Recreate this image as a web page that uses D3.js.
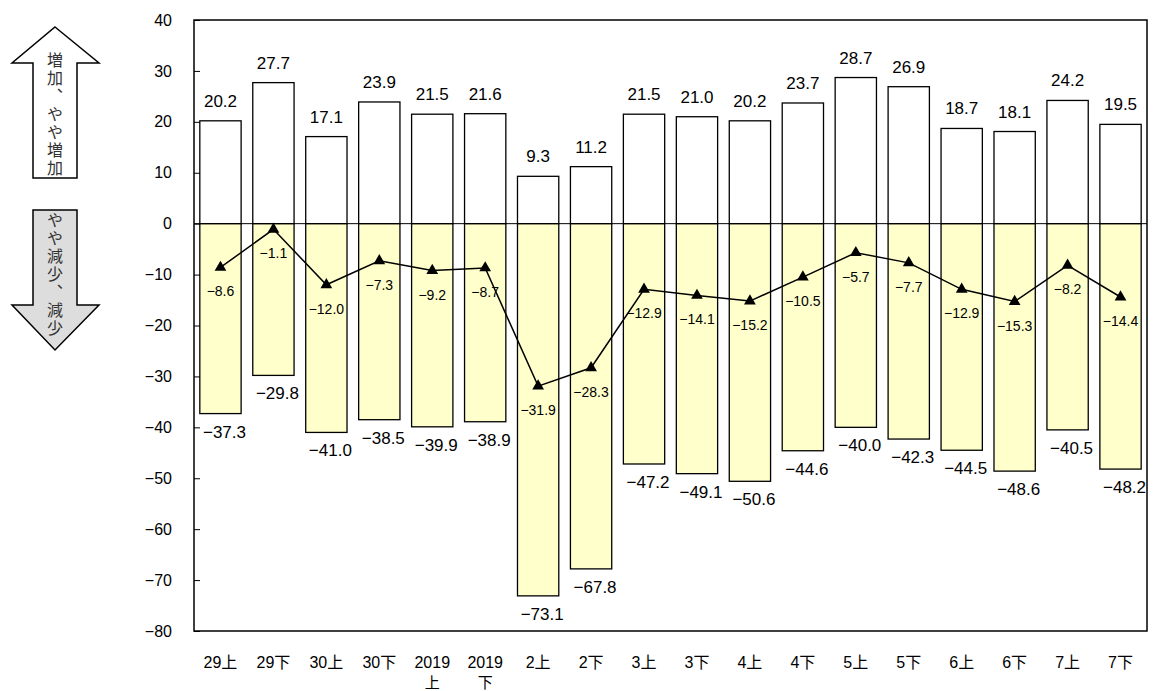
<!DOCTYPE html>
<html><head><meta charset="utf-8">
<script src="https://cdn.jsdelivr.net/npm/d3@7"></script>
<style>
body{margin:0;background:#fff;}
svg{display:block;font-family:"Liberation Sans","Noto Sans CJK JP",Arial,sans-serif;}
.vt{writing-mode:vertical-rl;text-orientation:upright;}
</style></head>
<body><svg id="c" width="1153" height="691"></svg>
<script>
const categories = ["29上","29下","30上","30下","2019上","2019下","2上","2下","3上","3下","4上","4下","5上","5下","6上","6下","7上","7下"];
const increase = [20.2,27.7,17.1,23.9,21.5,21.6,9.3,11.2,21.5,21.0,20.2,23.7,28.7,26.9,18.7,18.1,24.2,19.5];
const decrease = [-37.3,-29.8,-41.0,-38.5,-39.9,-38.9,-73.1,-67.8,-47.2,-49.1,-50.6,-44.6,-40.0,-42.3,-44.5,-48.6,-40.5,-48.2];
const diffusion = [-8.6,-1.1,-12.0,-7.3,-9.2,-8.7,-31.9,-28.3,-12.9,-14.1,-15.2,-10.5,-5.7,-7.7,-12.9,-15.3,-8.2,-14.4];
const yTicks = [40,30,20,10,0,-10,-20,-30,-40,-50,-60,-70,-80];
const upText = "増加、やや増加";
const downText = "やや減少、減少";

(function(){
const svg = d3.select("#c");
const pL=194, pR=1147, pT=20, pB=631;
const x = d3.scaleBand().domain(categories).range([pL,pR]).paddingInner(0.22).paddingOuter(0.11);
const y = d3.scaleLinear().domain([-80,40]).range([pB,pT]);
const fmt = d3.format(".1f");
const minus = v => (v<0 ? "\u2212"+fmt(-v) : fmt(v));

svg.append("g").selectAll("rect").data(categories).join("rect")
  .attr("x",d=>x(d)).attr("width",x.bandwidth())
  .attr("y",(d,i)=>y(increase[i])).attr("height",(d,i)=>y(0)-y(increase[i]))
  .attr("fill","#fff").attr("stroke","#000").attr("stroke-width",1.3);
svg.append("g").selectAll("rect").data(categories).join("rect")
  .attr("x",d=>x(d)).attr("width",x.bandwidth())
  .attr("y",y(0)).attr("height",(d,i)=>y(decrease[i])-y(0))
  .attr("fill","#FFFFCC").attr("stroke","#000").attr("stroke-width",1.3);

svg.append("line").attr("x1",pL).attr("x2",pR).attr("y1",y(0)).attr("y2",y(0)).attr("stroke","#000").attr("stroke-width",1);

svg.append("rect").attr("x",pL).attr("y",pT).attr("width",pR-pL).attr("height",pB-pT)
  .attr("fill","none").attr("stroke","#000").attr("stroke-width",1.5);

const yAxis = d3.axisLeft(y).tickValues(yTicks).tickSize(-6).tickPadding(22).tickFormat(d=>d<0?"\u2212"+(-d):d);
const ya = svg.append("g").attr("transform",`translate(${pL},0)`).call(yAxis);
ya.select(".domain").remove();
ya.selectAll("line").attr("stroke","#000");
ya.selectAll("text").attr("font-size",16).attr("fill","#000").attr("font-family","Liberation Sans, Arial, sans-serif");

const xl = svg.append("g");
categories.forEach(c=>{
  const m = c.match(/^(\d{4})(.)$/);
  const cx = x(c)+x.bandwidth()/2;
  const t = xl.append("text").attr("x",cx).attr("y",668).attr("text-anchor","middle").attr("font-size",16).attr("fill","#000");
  if(m){
    t.text(m[1]);
    xl.append("text").attr("x",cx).attr("y",688).attr("text-anchor","middle").attr("font-size",15).text(m[2]);
  } else t.text(c);
});

svg.append("g").selectAll("text").data(categories).join("text")
  .attr("x",d=>x(d)+x.bandwidth()/2).attr("y",(d,i)=>y(increase[i])-14)
  .attr("text-anchor","middle").attr("font-size",17).text((d,i)=>minus(increase[i]));
svg.append("g").selectAll("text").data(categories).join("text")
  .attr("x",d=>x(d)+x.bandwidth()/2+4).attr("y",(d,i)=>y(decrease[i])+24)
  .attr("text-anchor","middle").attr("font-size",17).text((d,i)=>minus(decrease[i]));

const line = d3.line().x((d,i)=>x(categories[i])+x.bandwidth()/2).y(d=>y(d));
svg.append("path").datum(diffusion).attr("d",line).attr("fill","none").attr("stroke","#000").attr("stroke-width",1.5);
svg.append("g").selectAll("path").data(diffusion).join("path")
  .attr("d",d3.symbol().type(d3.symbolTriangle).size(60))
  .attr("transform",(d,i)=>`translate(${x(categories[i])+x.bandwidth()/2},${y(d)})`).attr("fill","#000");
svg.append("g").selectAll("text").data(diffusion).join("text")
  .attr("x",(d,i)=>x(categories[i])+x.bandwidth()/2).attr("y",d=>y(d)+29)
  .attr("text-anchor","middle").attr("font-size",14).text(d=>minus(d));

const up = [[55,27],[99,63],[77,63],[77,178],[33,178],[33,63],[12,63]];
svg.append("path").attr("d",d3.line()(up)+"Z").attr("fill","#fff").attr("stroke","#000").attr("stroke-width",1.5);
const dn = [[33,210],[77,210],[77,305],[99,305],[55,350],[12,305],[33,305]];
svg.append("path").attr("d",d3.line()(dn)+"Z").attr("fill","#DDDDDD").attr("stroke","#000").attr("stroke-width",1.5);

svg.append("text").attr("class","vt").attr("x",55).attr("y",52).attr("font-size",16)
  .attr("font-family","Noto Sans CJK JP").attr("fill","#333").attr("letter-spacing",2).text(upText);
svg.append("text").attr("class","vt").attr("x",55).attr("y",212).attr("font-size",16)
  .attr("font-family","Noto Sans CJK JP").attr("fill","#333").attr("letter-spacing",2).text(downText);
})();
</script></body></html>
